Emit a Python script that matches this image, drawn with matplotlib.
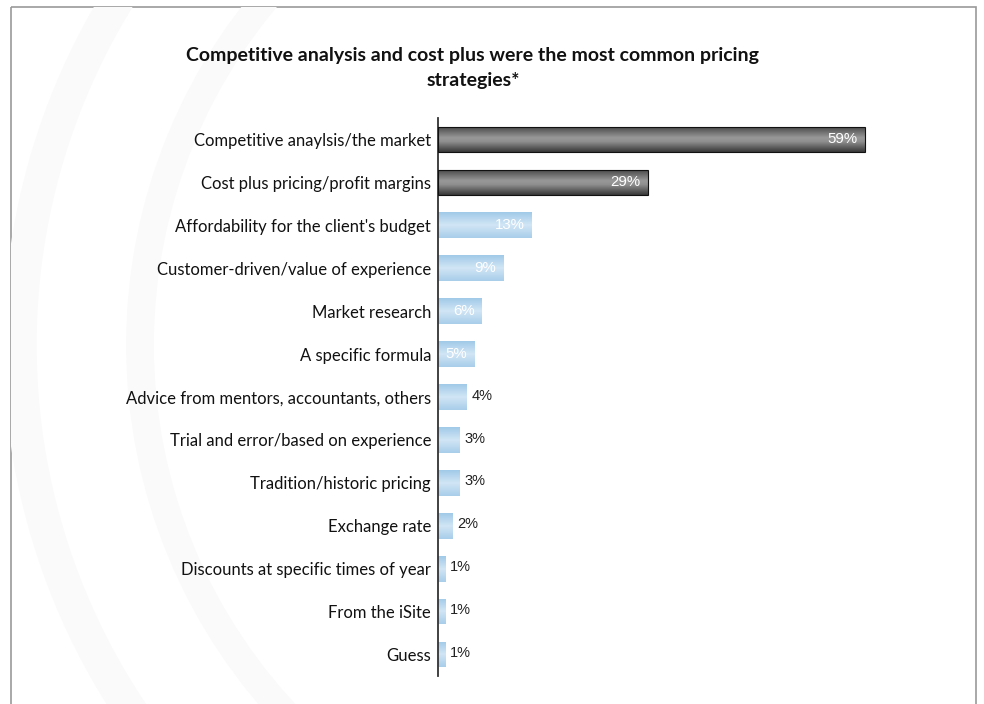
import numpy as np
import matplotlib
matplotlib.use("Agg")
import matplotlib.pyplot as plt
from matplotlib.patches import Rectangle, Circle

# Survey results: share of respondents naming each pricing strategy
categories = [
    "Competitive anaylsis/the market",
    "Cost plus pricing/profit margins",
    "Affordability for the client's budget",
    "Customer-driven/value of experience",
    "Market research",
    "A specific formula",
    "Advice from mentors, accountants, others",
    "Trial and error/based on experience",
    "Tradition/historic pricing",
    "Exchange rate",
    "Discounts at specific times of year",
    "From the iSite",
    "Guess",
]
values = [59, 29, 13, 9, 6, 5, 4, 3, 3, 2, 1, 1, 1]
highlighted = [True, True] + [False] * 11

title = "Competitive analysis and cost plus were the most common pricing\nstrategies*"

W, H = 984, 704
fig = plt.figure(figsize=(W / 100, H / 100), dpi=100)
fig.patch.set_facecolor("white")

# Decorative background: faint arcs and a frame
bg = fig.add_axes([0, 0, 1, 1], zorder=0)
bg.set_xlim(0, W)
bg.set_ylim(H, 0)
bg.axis("off")
frame = Rectangle((10.5, 6.5), 965, 720, fill=False, edgecolor="#9a9a9a", lw=1.2)
bg.add_patch(frame)
for r, lw in [(660, 24), (540, 20)]:
    c = Circle((680, 345), r, fill=False, edgecolor="#fafafa", lw=lw)
    bg.add_patch(c)
    c.set_clip_path(Rectangle((11, 7), 964, 720, transform=bg.transData))

label_font = "Lato"
ax = fig.add_axes([438 / W, 28 / H, 470 / W, 558 / H], zorder=1)
ax.patch.set_alpha(0)

y = np.arange(len(categories))
bars = ax.barh(y, values, height=0.6, color="none", edgecolor="none", zorder=2)
ax.set_xlim(0, 65)
ax.set_ylim(len(categories) - 0.5, -0.5)

# Vertical gradients for bar fills
t = np.linspace(0, 1, 64)
dark = np.interp(t, [0, 0.08, 0.45, 0.6, 1.0], [0.05, 0.33, 0.60, 0.56, 0.22])
dark_img = np.stack([dark, dark, dark], axis=1)[:, None, :]
lb = np.interp(t, [0, 0.5, 1.0], [0, 1, 0.15])
c0 = np.array([0.63, 0.79, 0.91])
c1 = np.array([0.82, 0.90, 0.96])
light_img = (c0[None, :] * (1 - lb[:, None]) + c1[None, :] * lb[:, None])[:, None, :]

for bar, hi in zip(bars, highlighted):
    x0, y0 = bar.get_x(), bar.get_y()
    w, h = bar.get_width(), bar.get_height()
    img = dark_img if hi else light_img
    im = ax.imshow(img, extent=[x0, x0 + w, y0 + h, y0], aspect="auto",
                   interpolation="bilinear", zorder=2)
    im.set_clip_path(bar)
    if hi:
        ax.add_patch(Rectangle((x0, y0), w, h, fill=False, edgecolor="#111111",
                               lw=0.8, zorder=3))

ax.set_aspect("auto")
ax.set_xlim(0, 65)
ax.set_ylim(len(categories) - 0.5, -0.5)

# Value labels: inside (white) for wide bars, outside (dark) for narrow ones
for yi, v in zip(y, values):
    if v >= 5:
        ax.annotate(f"{v}%", (v, yi), xytext=(-5, 0), textcoords="offset points",
                    ha="right", va="center", color="white", fontsize=10.8,
                    family="Liberation Sans", zorder=4)
    else:
        ax.annotate(f"{v}%", (v, yi), xytext=(3.5, 1), textcoords="offset points",
                    ha="left", va="center", color="#222222", fontsize=10.5,
                    family="Liberation Sans", zorder=4)

ax.set_yticks(y)
ax.set_yticklabels(categories, family=label_font, fontsize=12, color="#111111")
ax.tick_params(axis="y", length=0, pad=5)
ax.set_xticks([])
for side in ["top", "right", "bottom"]:
    ax.spines[side].set_visible(False)
ax.spines["left"].set_color("#333333")
ax.spines["left"].set_linewidth(1.3)

fig.text(473 / W, 1 - 68 / H, title, ha="center", va="center", fontsize=14,
         fontweight="bold", family=label_font, color="#111111", linespacing=1.6)

fig.savefig("out.png", dpi=100, facecolor="white")
